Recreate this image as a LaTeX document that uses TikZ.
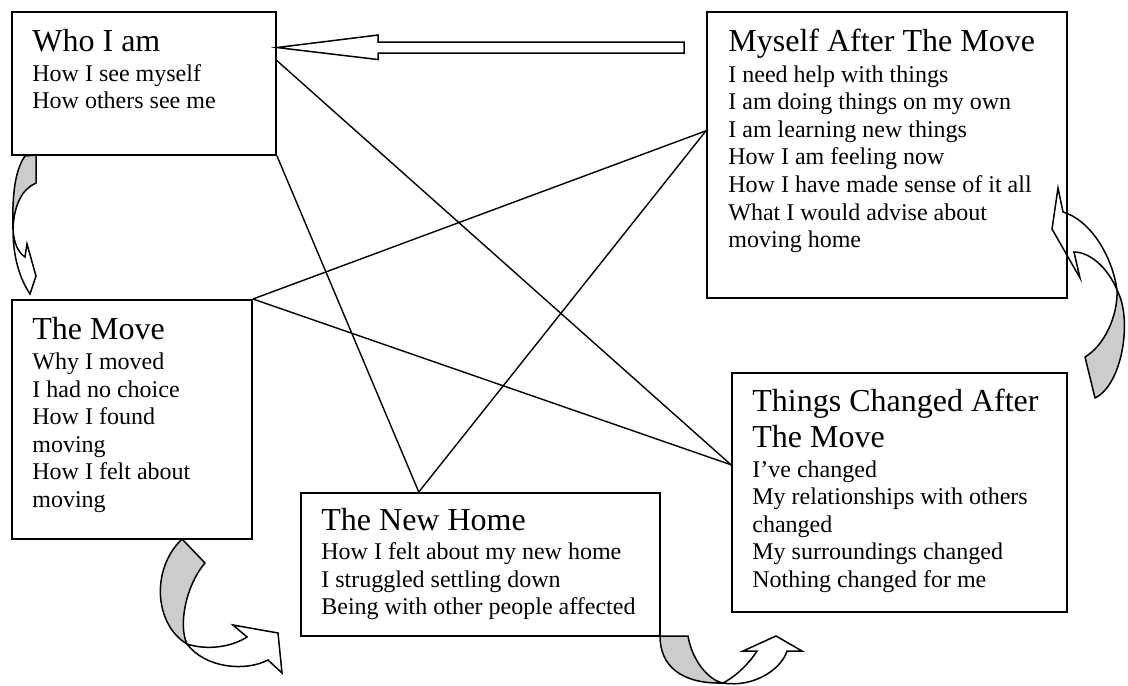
\documentclass[tikz,border=0pt]{standalone}
\usepackage{fontspec}
\setmainfont{Liberation Serif}
\usetikzlibrary{calc}
\definecolor{shade}{RGB}{204,204,204}
\tikzset{
  boxed/.style 2 args={draw, line width=1pt, inner sep=0pt, minimum width=#1, minimum height=#2},
  ttl/.style={inner sep=0pt, anchor=base west, font=\fontsize{16}{18.4}\selectfont},
  bodytxt/.style={inner sep=0pt, anchor=base west, font=\fontsize{12}{13.8}\selectfont},
  link/.style={line width=0.7pt},
  backface/.style={fill=shade, draw, line width=0.75pt, line join=round},
  frontface/.style={fill=white, draw, line width=0.75pt, line join=miter},
}
\newcommand{\lns}[1]{\begin{tabular}[t]{@{}l@{}}#1\end{tabular}}
\begin{document}
\begin{tikzpicture}[x=0.5pt, y=-0.5pt]
\useasboundingbox (0,0) rectangle (1128,685);

% ---- curved arrows (drawn first, boxes on top) ----
% left: Who I am -> The Move
\draw[backface] (25,156) -- (36,155) -- (36,183) .. controls (22,189) and (14,205) .. (13,229)
   .. controls (12,195) and (15,170) .. (25,156) -- cycle;
\draw[frontface] (13,229) .. controls (14,244) and (18,252) .. (25,257) -- (27,244) -- (36,276) -- (30,294)
   .. controls (20,279) and (13,258) .. (13,229) -- cycle;
% bottom left: The Move -> The New Home
\draw[backface] (182,539) -- (205,563) .. controls (186,585) and (178,625) .. (187,644)
   .. controls (155,625) and (150,570) .. (182,539) -- cycle;
\draw[frontface] (187,644) .. controls (205,650) and (230,648) .. (247,637) -- (233,625) -- (278,633) -- (282,673) -- (268,660)
   .. controls (245,672) and (205,668) .. (187,644) -- cycle;
% bottom middle: The New Home -> Things Changed
\draw[backface] (660,636) -- (688,636) .. controls (692,660) and (708,680) .. (723,683)
   .. controls (680,684) and (660,665) .. (660,636) -- cycle;
\draw[frontface] (723,683) .. controls (738,675) and (750,662) .. (757,651) -- (743,651) -- (776,636) -- (802,651) -- (787,651)
   .. controls (782,668) and (755,688) .. (723,683) -- cycle;
% right: Things Changed -> Myself After The Move
\draw[backface] (1085,357) -- (1095,398) .. controls (1122,385) and (1133,320) .. (1117,290)
   .. controls (1118,315) and (1105,345) .. (1085,357) -- cycle;
\draw[frontface] (1117,290) .. controls (1112,255) and (1090,220) .. (1063,212) -- (1058,188) -- (1052,229) -- (1080,278) -- (1074,252)
   .. controls (1090,252) and (1108,268) .. (1117,290) -- cycle;

% ---- boxes ----
\node[boxed={132pt}{71.5pt}] (who) at (144,83.5) {};
\node[boxed={180pt}{143pt}] (myself) at (887,155) {};
\node[boxed={120pt}{119.5pt}] (move) at (132,419.5) {};
\node[boxed={179.5pt}{71.5pt}] (home) at (480.5,564.5) {};
\node[boxed={167.5pt}{119.5pt}] (things) at (899.5,492.5) {};

% ---- texts ----
\node[ttl] (whoT) at (32,51) {Who I am};
\node[bodytxt] (whoB) at (32,81) {\lns{How I see myself\\How others see me}};
\node[ttl] (myselfT) at (728,51) {Myself After The Move};
\node[bodytxt] (myselfB) at (728,82) {\lns{I need help with things\\I am doing things on my own\\I am learning new things\\How I am feeling now\\How I have made sense of it all\\What I would advise about\\moving home}};
\node[ttl] (moveT) at (32,339) {The Move};
\node[bodytxt] (moveB) at (32,369.5) {\lns{Why I moved\\I had no choice\\How I found\\moving\\How I felt about\\moving}};
\node[ttl] (homeT) at (321,530) {The New Home};
\node[bodytxt] (homeB) at (321,559.5) {\lns{How I felt about my new home\\I struggled settling down\\Being with other people affected}};
\node[ttl] (thingsT) at (752,411) {\lns{Things Changed After\\The Move}};
\node[bodytxt] (thingsB) at (752,477) {\lns{I’ve changed\\My relationships with others\\changed\\My surroundings changed\\Nothing changed for me}};

% ---- connectors ----
\coordinate (whoR) at ($(who.north east)!0.343!(who.south east)$);
\coordinate (thingsL) at ($(things.north west)!0.385!(things.south west)$);
\coordinate (homeTop) at ($(home.north west)!0.329!(home.north east)$);
\coordinate (myselfL) at ($(myself.north west)!0.416!(myself.south west)$);
\draw[link] (whoR) -- (thingsL);
\draw[link] (who.south east) -- (homeTop);
\draw[link] (homeTop) -- (myselfL);
\draw[link] (move.north east) -- (myselfL);
\draw[link] (move.north east) -- (thingsL);

% ---- big hollow arrow: Myself After The Move -> Who I am ----
\coordinate (bigTip) at ($(who.north east)!0.252!(who.south east)$);
\draw[frontface] (bigTip) -- ++(101,-12.5) -- ++(0,7) -- ++(306,0) -- ++(0,11) -- ++(-306,0) -- ++(0,6.5) -- cycle;
\end{tikzpicture}
\end{document}
